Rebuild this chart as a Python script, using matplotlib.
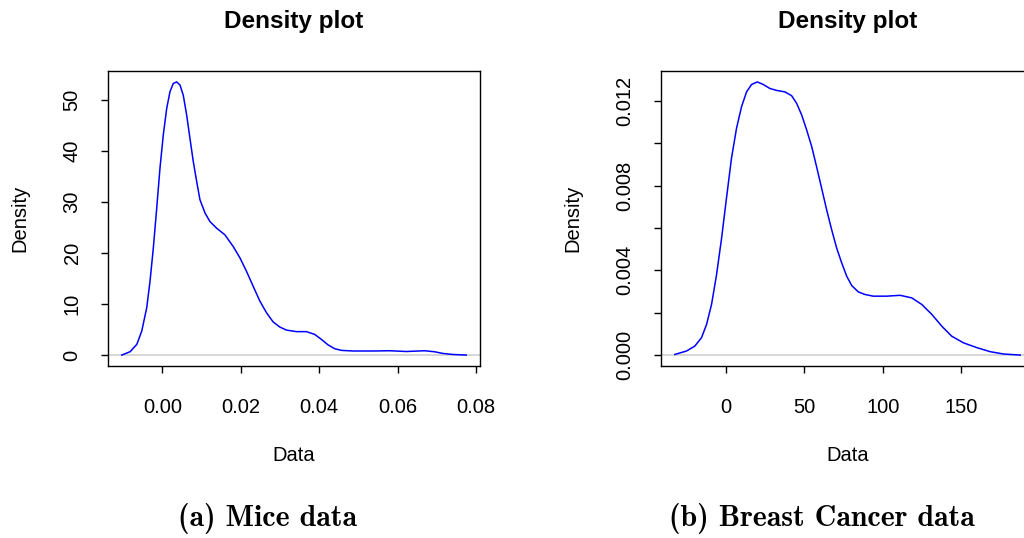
import os
import matplotlib
matplotlib.use('Agg')
import matplotlib.pyplot as plt
from matplotlib.font_manager import FontProperties

plt.rcParams['font.family'] = ['Liberation Sans', 'DejaVu Sans']

# density curves
mice_x = [-0.01033, -0.00822, -0.0065, -0.00524, -0.00397, -0.00313, -0.00229, -0.00143,
          -0.00059, 0.00025, 0.00112, 0.00196, 0.0028, 0.00366, 0.0045, 0.00534,
          0.00621, 0.00705, 0.00789, 0.00875, 0.00959, 0.01087, 0.01214, 0.01384,
          0.01595, 0.01807, 0.01977, 0.02148, 0.02316, 0.02486, 0.02656, 0.02825,
          0.02995, 0.03165, 0.0342, 0.03674, 0.03885, 0.04056, 0.04224, 0.04394,
          0.04565, 0.0486, 0.0537, 0.05794, 0.0622, 0.06684, 0.06939, 0.0715,
          0.07405, 0.07746]
mice_y = [0.0, 0.66, 2.1, 4.7, 9.3, 14.5, 21.0, 28.8,
          36.7, 43.2, 48.4, 51.7, 53.3, 53.6, 53.0, 51.0,
          47.1, 42.5, 38.0, 34.1, 30.5, 27.9, 26.2, 24.9,
          23.6, 21.3, 19.1, 16.4, 13.5, 10.6, 8.3, 6.5,
          5.5, 4.9, 4.6, 4.6, 4.05, 3.07, 2.0, 1.25,
          0.92, 0.8, 0.8, 0.85, 0.7, 0.85, 0.65, 0.32,
          0.12, 0.0]

bc_x = [-32.5, -25.1, -19.8, -15.5, -12.3, -9.1, -5.9, -2.7, 0.4, 3.6, 6.8, 10.0,
        13.2, 16.4, 20.0, 23.8, 28.1, 32.3, 37.6, 41.9, 45.1, 48.3, 51.5, 54.7,
        57.8, 61.0, 64.2, 67.4, 70.6, 73.8, 77.0, 80.2, 84.4, 88.6, 93.9, 102.5,
        111.0, 118.4, 124.8, 131.2, 137.6, 143.9, 151.3, 159.9, 168.4, 176.9,
        185.4, 187.5]
bc_y = [0.00003, 0.00019, 0.00042, 0.00082, 0.00144, 0.00239, 0.0038, 0.00552,
        0.0074, 0.00929, 0.0107, 0.01172, 0.01242, 0.01277, 0.01289, 0.01277,
        0.01258, 0.01249, 0.01242, 0.01224, 0.01188, 0.01133, 0.01062, 0.00984,
        0.00889, 0.00788, 0.00686, 0.00592, 0.00505, 0.00435, 0.00372, 0.00328,
        0.00298, 0.00286, 0.00278, 0.00278, 0.00282, 0.0027, 0.00239, 0.00192,
        0.00136, 0.00089, 0.00058, 0.00035, 0.00016, 0.00005, 0.00001, 0.0]

mice_ticks = [0.00, 0.02, 0.04, 0.06, 0.08]
mice_labels = ['0.00', '0.02', '0.04', '0.06', '0.08']
mice_yticks = [0, 10, 20, 30, 40, 50]
bc_ticks = [0, 50, 100, 150]
bc_yticks = [0.000, 0.002, 0.004, 0.006, 0.008, 0.010, 0.012]
bc_ylabels = ['0.000', '', '0.004', '', '0.008', '', '0.012']

fig = plt.figure(figsize=(10.24, 5.38), dpi=100)
ax1 = fig.add_axes([108/1024, 172/538, 372/1024, 295/538])
ax2 = fig.add_axes([661/1024, 172/538, 373/1024, 295/538])


def rng(v):
    lo, hi = min(v), max(v)
    d = (hi - lo) * 0.04
    return lo - d, hi + d


def style_ax(ax):
    for s in ax.spines.values():
        s.set_linewidth(1.0)
        s.set_color('black')
    ax.tick_params(direction='out', length=5, width=1.0, labelsize=14.5, colors='black')
    ax.tick_params(axis='x', pad=18)
    ax.tick_params(axis='y', pad=14)
    for t in ax.get_yticklabels():
        t.set_rotation(90)
        t.set_va('center')
    ax.set_title('Density plot', fontsize=17.5, fontweight='bold', pad=31)
    ax.set_xlabel('Data', fontsize=14.5, labelpad=21)
    ax.set_ylabel('Density', fontsize=14.5, labelpad=24)


ax1.axhline(0, color='#d3d3d3', lw=1.3)
ax1.plot(mice_x, mice_y, color='blue', lw=1.1)
ax1.set_xlim(rng(mice_x))
ax1.set_ylim(-0.04 * max(mice_y), 1.04 * max(mice_y))
ax1.set_xticks(mice_ticks)
ax1.set_xticklabels(mice_labels)
ax1.set_yticks(mice_yticks)
style_ax(ax1)

ax2.axhline(0, color='#d3d3d3', lw=1.3)
ax2.plot(bc_x, bc_y, color='blue', lw=1.1)
ax2.set_xlim(rng(bc_x))
ax2.set_ylim(-0.04 * max(bc_y), 1.04 * max(bc_y))
ax2.set_xticks(bc_ticks)
ax2.set_yticks(bc_yticks)
ax2.set_yticklabels(bc_ylabels)
style_ax(ax2)

# captions in computer modern bold
cmb = os.path.join(matplotlib.get_data_path(), 'fonts', 'ttf', 'cmb10.ttf')
cap_font = FontProperties(fname=cmb, size=21.5)
fig.text(268/1024, 1 - 518/538, '(a) Mice data', fontproperties=cap_font,
         ha='center', va='center')
fig.text(822/1024, 1 - 518/538, '(b) Breast Cancer data', fontproperties=cap_font,
         ha='center', va='center')

fig.savefig('out.png', dpi=100)
